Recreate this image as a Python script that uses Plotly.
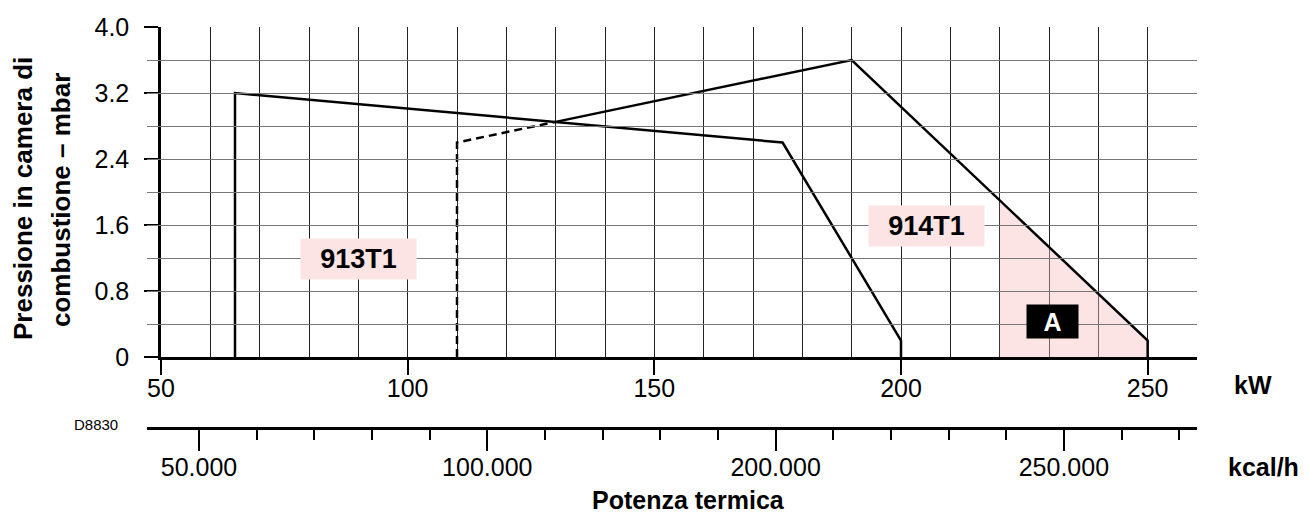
import plotly.graph_objects as go

# ---- data ----
kw_913 = [65, 65, 176, 200, 200]
p_913 = [0, 3.2, 2.6, 0.2, 0]

kw_914_dash = [110, 110, 130]
p_914_dash = [0, 2.6, 2.85]
kw_914 = [130, 190, 250, 250]
p_914 = [2.85, 3.6, 0.2, 0]

kw_area_a = [220, 220, 250, 250]
p_area_a = [0, 1.9, 0.2, 0]

y_ticks = [0, 0.8, 1.6, 2.4, 3.2, 4.0]
y_ticktext = ["0", "0.8", "1.6", "2.4", "3.2", "4.0"]
kw_ticks = [50, 100, 150, 200, 250]
kcal_ticks = [50000, 100000, 150000, 200000]
kcal_ticktext = ["50.000", "100.000", "200.000", "250.000"]

labels = [("913T1", 90.06, 1.19), ("914T1", 205.2, 1.59)]
label_a = ("A", 230.8, 0.43)

# ---- geometry (page coordinates; the page body adds an 8px margin all round) ----
OFF = 8
W, H = 1309 - 2 * OFF, 522 - 2 * OFF
L, R, T, B = 147, 1197, 27, 428  # plot area in page px (incl. kcal axis)
PW, PH = R - L, B - T
X0 = 161        # px of kW=50 / y axis
Y0 = 357        # px of p=0 / kW axis

def px(x):
    return (x - L) / PW

def py(y):
    return (B - y) / PH

TICKF = "Liberation Sans, Arial, sans-serif"
BOLD = "Liberation Sans, Arial, sans-serif"
PINK = "#fde4e4"

fig = go.Figure()

fig.add_trace(go.Scatter(x=kw_area_a, y=p_area_a, mode="lines", fill="toself",
                         fillcolor="rgba(248,190,190,0.42)", line=dict(width=0),
                         hoverinfo="skip", showlegend=False))
fig.add_trace(go.Scatter(x=kw_913, y=p_913, mode="lines",
                         line=dict(color="black", width=2.5), showlegend=False))
fig.add_trace(go.Scatter(x=kw_914_dash, y=p_914_dash, mode="lines",
                         line=dict(color="black", width=2.5, dash="8px,5px"), showlegend=False))
fig.add_trace(go.Scatter(x=kw_914, y=p_914, mode="lines",
                         line=dict(color="black", width=2.5), showlegend=False))
# invisible trace carrying the kcal/h axis
fig.add_trace(go.Scatter(x=kcal_ticks, y=[0] * len(kcal_ticks), xaxis="x2", yaxis="y",
                         mode="markers", marker=dict(opacity=0), hoverinfo="skip",
                         showlegend=False))

kcal_per_px = 50000 / 288.3
kcal_lo = 50000 - (199 - L) * kcal_per_px
kcal_hi = 50000 + (R - 199) * kcal_per_px

fig.update_layout(
    width=W, height=H,
    margin=dict(l=L - OFF, r=W - (R - OFF), t=T - OFF, b=H - (B - OFF), pad=0, autoexpand=False),
    plot_bgcolor="rgba(0,0,0,0)", paper_bgcolor="white",
    font=dict(family=TICKF, size=25, color="black"),
    xaxis=dict(
        domain=[px(X0), 1], range=[50, 260], anchor="y", automargin=False,
        tickvals=kw_ticks, ticks="outside", ticklen=15, tickwidth=2, tickcolor="black",
        showline=True, linecolor="black", linewidth=2.5,
        showgrid=True, gridcolor="#222", gridwidth=1,
        minor=dict(dtick=10, tick0=50, showgrid=True, gridcolor="#222", gridwidth=1, ticks=""),
        zeroline=False, ticklabelstandoff=-8,
        tickfont=dict(family=TICKF, size=25),
    ),
    yaxis=dict(
        domain=[py(Y0), 1], range=[0, 4], anchor="x", automargin=False,
        tickvals=y_ticks, ticktext=y_ticktext, ticks="outside", ticklen=14, tickwidth=2,
        tickcolor="black", showline=True, linecolor="black", linewidth=2.5,
        showgrid=True, gridcolor="#777", gridwidth=1,
        minor=dict(dtick=0.4, tick0=0, showgrid=True, gridcolor="#777", gridwidth=1, ticks=""),
        zeroline=False, ticklabelstandoff=10,
        tickfont=dict(family=TICKF, size=25),
    ),
    xaxis2=dict(
        domain=[0, 1], range=[kcal_lo, kcal_hi], anchor="free", position=0, automargin=False,
        tickvals=kcal_ticks, ticktext=kcal_ticktext, ticks="outside", ticklen=21,
        tickwidth=2, tickcolor="black", showline=True, linecolor="black", linewidth=2.5,
        showgrid=False, zeroline=False,
        minor=dict(dtick=10000, tick0=0, ticks="outside", ticklen=10, tickwidth=2,
                   tickcolor="black", showgrid=False),
        ticklabelstandoff=-5,
        tickfont=dict(family=TICKF, size=25),
    ),
)

annos = []
for txt, x, y in labels:
    annos.append(dict(x=x, y=y, xref="x", yref="y", text="<b>%s</b>" % txt, showarrow=False,
                      font=dict(family=BOLD, size=27, color="black"), bgcolor=PINK,
                      width=113, height=38, align="center", valign="middle"))
annos.append(dict(x=label_a[1], y=label_a[2], xref="x", yref="y", text="<b>%s</b>" % label_a[0],
                  showarrow=False, font=dict(family=BOLD, size=25, color="white"),
                  bgcolor="black", width=49, height=31, align="center", valign="middle"))

annos += [
    dict(x=px(23), y=py(199), xref="paper", yref="paper", text="<b>Pressione in camera di</b>",
         textangle=-90, showarrow=False, xanchor="center", yanchor="middle",
         font=dict(family=BOLD, size=26)),
    dict(x=px(61), y=py(200), xref="paper", yref="paper", text="<b>combustione – mbar</b>",
         textangle=-90, showarrow=False, xanchor="center", yanchor="middle",
         font=dict(family=BOLD, size=26)),
    dict(x=px(1232), y=py(385), xref="paper", yref="paper", text="<b>kW</b>",
         showarrow=False, xanchor="left", yanchor="middle", font=dict(family=BOLD, size=25)),
    dict(x=px(1301), y=py(467), xref="paper", yref="paper", text="<b>kcal/h</b>",
         showarrow=False, xanchor="right", yanchor="middle", font=dict(family=BOLD, size=25)),
    dict(x=px(688), y=py(500), xref="paper", yref="paper", text="<b>Potenza termica</b>",
         showarrow=False, xanchor="center", yanchor="middle", borderpad=0,
         font=dict(family=BOLD, size=25)),
    dict(x=px(72), y=py(424), xref="paper", yref="paper", text="D8830",
         showarrow=False, xanchor="left", yanchor="middle", font=dict(family=BOLD, size=15)),
]
fig.update_layout(annotations=annos)

fig.write_html("out.html")
